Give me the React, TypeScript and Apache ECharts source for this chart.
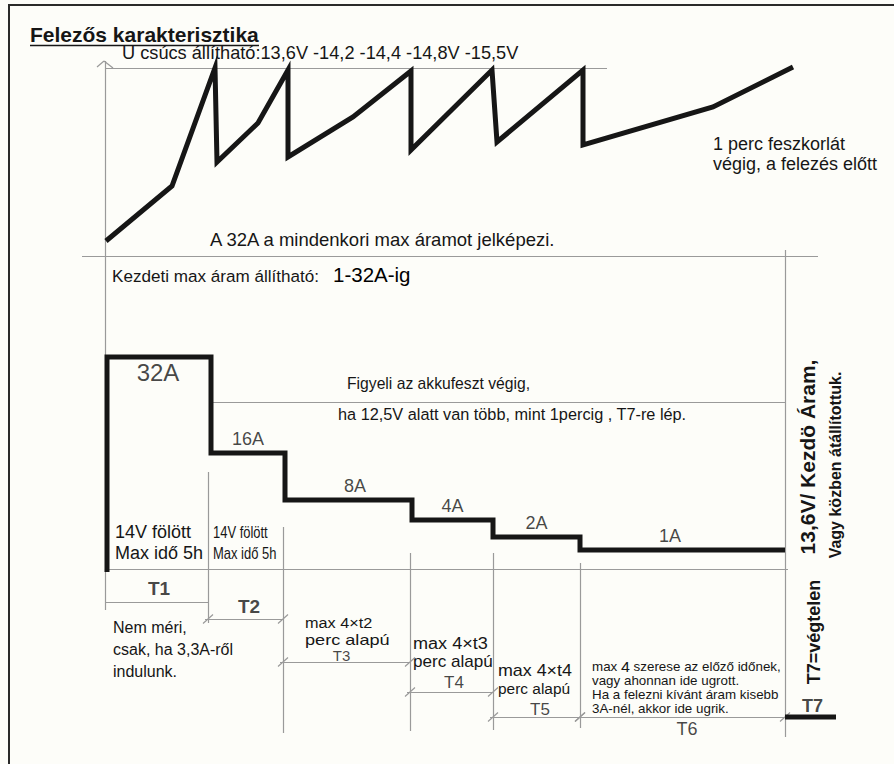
import React, { useEffect, useRef } from "react";
import * as echarts from "echarts";

const FONT = '"Liberation Sans", Arial, Helvetica, sans-serif';
const INK = "#161616";
const GUIDE = "#9a9a9a";

// ---- Upper diagram: charging voltage (schematic units; peak line = 18.8)
const voltageTime = [0.1, 6.7, 11.0, 11.2, 15.3, 18.3, 18.3, 24.8, 30.6, 30.6, 38.7, 39.2, 47.8, 47.8, 60.8, 68.8];
const voltageLevel = [1.5, 7.0, 18.8, 9.4, 13.3, 18.6, 9.9, 13.9, 18.5, 10.6, 18.6, 11.4, 18.6, 11.1, 14.9, 18.9];
const peakLevel = 18.8;
const peakLineEnd = 50.2;

// ---- Lower diagram: halving current steps (schematic units)
const currentNames = ["32A", "16A", "8A", "4A", "2A", "1A"];
const currentLevel = [21.2, 11.6, 6.9, 4.9, 3.2, 1.9];
const stepEdges = [0.2, 10.6, 18.0, 30.7, 38.8, 47.5, 68.0];
const currentLabelX = [5.3, 14.3, 25.0, 34.75, 43.15, 56.5];

// ---- Phases T1..T7
const phaseNames = ["T1", "T2", "T3", "T4", "T5", "T6", "T7"];
const phaseEdges = [0, 10.3, 17.8, 30.5, 38.8, 47.5, 68.0, 73.1];
const phaseDimY = [-3.3, -5.0, -9.3, -12.3, -14.8, -14.8, -14.8];
const phaseLabelX = [5.4, 14.4, 23.65, 34.9, 43.5, 58.2, 70.75];
const phaseLabelY = [-1.94, -3.74, -8.68, -11.3, -14.0, -15.97, -13.67];
const boundaryTop = [9.7, 4.2, 1.6, 1.6, 0.6, 31.9];
const boundaryBottom = [-5.4, -16.4, -16.2, -16.1, -15.9, -16.8];
const watchLevel = 16.7;
const watchStart = 10.8;

type Pt = [number, number];

function seg(a: Pt, b: Pt) {
  return { coords: [a, b] };
}

function txt(text: string, x: number, baseline: number, size: number, extra: any = {}) {
  const { weight = "normal", scaleX = 1, fill = INK, rich } = extra;
  return {
    type: "text",
    x,
    y: baseline - 0.35 * size,
    scaleX,
    silent: true,
    style: {
      text,
      fill,
      fontSize: size,
      fontFamily: FONT,
      fontWeight: weight,
      align: "left",
      verticalAlign: "middle",
      rich,
    },
  };
}

function vtxt(text: string, cx: number, cy: number, size: number, scaleX = 1) {
  return {
    type: "text",
    x: cx,
    y: cy,
    rotation: Math.PI / 2,
    scaleX,
    silent: true,
    style: {
      text,
      fill: INK,
      fontSize: size,
      fontFamily: FONT,
      fontWeight: "bold",
      align: "center",
      verticalAlign: "middle",
    },
  };
}

function buildOption() {
  const voltageData = voltageTime.map((t, i) => [t, voltageLevel[i]]);

  const currentData: Pt[] = [[stepEdges[0], -0.3]];
  currentLevel.forEach((lv, i) => {
    currentData.push([stepEdges[i], lv]);
    currentData.push([stepEdges[i + 1], lv]);
  });

  const topGuides = [
    seg([0, peakLevel], [peakLineEnd, peakLevel]),
    seg([0, 19.5], [0, -9.9]),
    seg([-0.8, 18.9], [-0.1, 19.5]),
    seg([-0.1, 19.5], [0.8, 18.8]),
    seg([-2.3, 0], [71.3, 0]),
  ];

  const bottomGuides: any[] = [
    seg([watchStart, watchLevel], [stepEdges[6], watchLevel]),
    seg([0, 0], [68.3, 0]),
    seg([0, 0], [0, -4.1]),
    seg([0, phaseDimY[0]], [phaseEdges[1], phaseDimY[0]]),
  ];
  for (let i = 1; i <= 6; i++) {
    bottomGuides.push(seg([phaseEdges[i], boundaryTop[i - 1]], [phaseEdges[i], boundaryBottom[i - 1]]));
  }
  for (let i = 1; i <= 5; i++) {
    const y = phaseDimY[i];
    const a = phaseEdges[i];
    const b = phaseEdges[i + 1];
    bottomGuides.push(seg([a - 0.3, y], [b, y]));
    bottomGuides.push(seg([a - 0.5, y - 0.45], [a + 0.5, y + 0.45]));
    bottomGuides.push(seg([b - 0.5, y - 0.45], [b + 0.5, y + 0.45]));
  }

  const currentLabelData = currentNames.map((n, i) => ({
    name: n,
    value: [currentLabelX[i], currentLevel[i]],
    label: {
      fontSize: i === 0 ? 24 : 18,
      offset: [0, i === 0 ? 15 : -14],
    },
  }));

  const phaseLabelData = phaseNames.map((n, i) => {
    const bold = i === 0 || i === 1 || i === 6;
    const size = [19, 19, 15, 17, 17, 18, 18][i];
    return {
      name: n,
      value: [phaseLabelX[i], phaseLabelY[i]],
      label: { fontSize: size, fontWeight: bold ? "bold" : "normal" },
    };
  });

  const labelSeriesBase = {
    type: "scatter",
    symbolSize: 1,
    itemStyle: { color: "rgba(0,0,0,0)" },
    silent: true,
    clip: false,
    label: {
      show: true,
      position: "inside",
      color: INK,
      fontFamily: FONT,
      formatter: (p: any) => p.name,
    },
  };

  const graphic: any[] = [
    {
      type: "polyline",
      silent: true,
      shape: { points: [[9, 764], [9, 5], [894, 5]] },
      style: { stroke: "#2a2a2a", lineWidth: 2, fill: "none" },
    },
    txt("Felezős karakterisztika", 30, 42, 21, { weight: "bold" }),
    {
      type: "line",
      silent: true,
      shape: { x1: 30, y1: 45.5, x2: 259, y2: 45.5 },
      style: { stroke: INK, lineWidth: 1.6 },
    },
    txt("U csúcs állítható:13,6V -14,2 -14,4 -14,8V -15,5V", 122, 59, 18.2),
    txt("1 perc feszkorlát", 713, 150, 18),
    txt("végig, a felezés előtt", 713, 170, 18),
    txt("A 32A a mindenkori max áramot jelképezi.", 210, 246, 18.5),
    txt("Kezdeti max áram állítható:", 112, 282, 17.1),
    txt("1-32A-ig", 333, 282, 20.5, { fill: "#000" }),
    txt("Figyeli az akkufeszt végig,", 347, 389, 15.7),
    txt("ha 12,5V alatt van több, mint 1percig , T7-re lép.", 338, 420, 16.3),
    txt("14V fölött", 115, 538, 18),
    txt("Max idő 5h", 115, 559, 18),
    txt("14V fölött", 213, 538, 16, { scaleX: 0.81 }),
    txt("Max idő 5h", 213, 559, 16, { scaleX: 0.81 }),
    txt("Nem méri,", 113, 633, 16),
    txt("csak, ha 3,3A-ről", 113, 655, 16),
    txt("indulunk.", 113, 677, 16),
    txt("max 4×t2", 305, 628, 14.5, { scaleX: 1.12 }),
    txt("perc alapú", 305, 644.5, 14.5, { scaleX: 1.25 }),
    txt("max 4×t3", 413, 649, 16, { scaleX: 1.13 }),
    txt("perc alapú", 413, 667, 16, { scaleX: 1.07 }),
    txt("max 4×t4", 498, 676, 17, { scaleX: 1.05 }),
    txt("perc alapú", 498, 694, 15, { scaleX: 1.03 }),
    txt("{a|max }{b|4}{a| szerese az előző időnek,}", 592, 671, 12.5, {
      scaleX: 1.07,
      rich: {
        a: { fontSize: 12.5, fontFamily: FONT, fill: INK, lineHeight: 13 },
        b: { fontSize: 15, fontFamily: FONT, fill: INK, lineHeight: 13 },
      },
    }),
    txt("vagy ahonnan ide ugrott.", 592, 685, 12.5, { scaleX: 1.07 }),
    txt("Ha a felezni kívánt áram kisebb", 592, 699, 12.5, { scaleX: 1.07 }),
    txt("3A-nél, akkor ide ugrik.", 592, 713, 12.5, { scaleX: 1.07 }),
    vtxt("13,6V/ Kezdö Áram,", 807.6, 457, 21),
    vtxt("Vagy közben átállítottuk.", 835.4, 465, 16),
    vtxt("T7=végtelen", 813.5, 632, 18),
  ];

  return {
    animation: false,
    backgroundColor: "#fdfdf9",
    grid: [
      { left: 105, top: 56, width: 780, height: 200 },
      { left: 105, top: 349, width: 780, height: 400 },
    ],
    xAxis: [
      { type: "value", gridIndex: 0, min: 0, max: 78, show: false },
      { type: "value", gridIndex: 1, min: 0, max: 78, show: false },
    ],
    yAxis: [
      { type: "value", gridIndex: 0, min: 0, max: 20, show: false },
      { type: "value", gridIndex: 1, min: -18, max: 22, show: false },
    ],
    series: [
      {
        type: "lines",
        coordinateSystem: "cartesian2d",
        xAxisIndex: 0,
        yAxisIndex: 0,
        silent: true,
        clip: false,
        lineStyle: { color: GUIDE, width: 1.2, opacity: 1 },
        data: topGuides,
      },
      {
        type: "lines",
        coordinateSystem: "cartesian2d",
        xAxisIndex: 1,
        yAxisIndex: 1,
        silent: true,
        clip: false,
        lineStyle: { color: GUIDE, width: 1.2, opacity: 1 },
        data: bottomGuides,
      },
      {
        name: "Feszültség",
        type: "line",
        xAxisIndex: 0,
        yAxisIndex: 0,
        data: voltageData,
        symbol: "none",
        clip: false,
        silent: true,
        lineStyle: { color: INK, width: 5, join: "miter", miterLimit: 6 },
      },
      {
        name: "Áram",
        type: "line",
        xAxisIndex: 1,
        yAxisIndex: 1,
        data: currentData,
        symbol: "none",
        clip: false,
        silent: true,
        lineStyle: { color: INK, width: 5, join: "miter" },
      },
      {
        name: "T7",
        type: "line",
        xAxisIndex: 1,
        yAxisIndex: 1,
        data: [
          [phaseEdges[6], phaseDimY[6]],
          [phaseEdges[7], phaseDimY[6]],
        ],
        symbol: "none",
        clip: false,
        silent: true,
        lineStyle: { color: INK, width: 5 },
      },
      { ...labelSeriesBase, xAxisIndex: 1, yAxisIndex: 1, data: currentLabelData },
      { ...labelSeriesBase, xAxisIndex: 1, yAxisIndex: 1, data: phaseLabelData },
    ],
    graphic,
  };
}

export default function App() {
  const ref = useRef<HTMLDivElement>(null);
  useEffect(() => {
    if (!ref.current) return;
    const chart = echarts.init(ref.current, undefined, { renderer: "svg" });
    chart.setOption(buildOption() as any);
    return () => chart.dispose();
  }, []);
  return (
    <div
      ref={ref}
      style={{ position: "fixed", left: 0, top: 0, width: 894, height: 764 }}
    />
  );
}
